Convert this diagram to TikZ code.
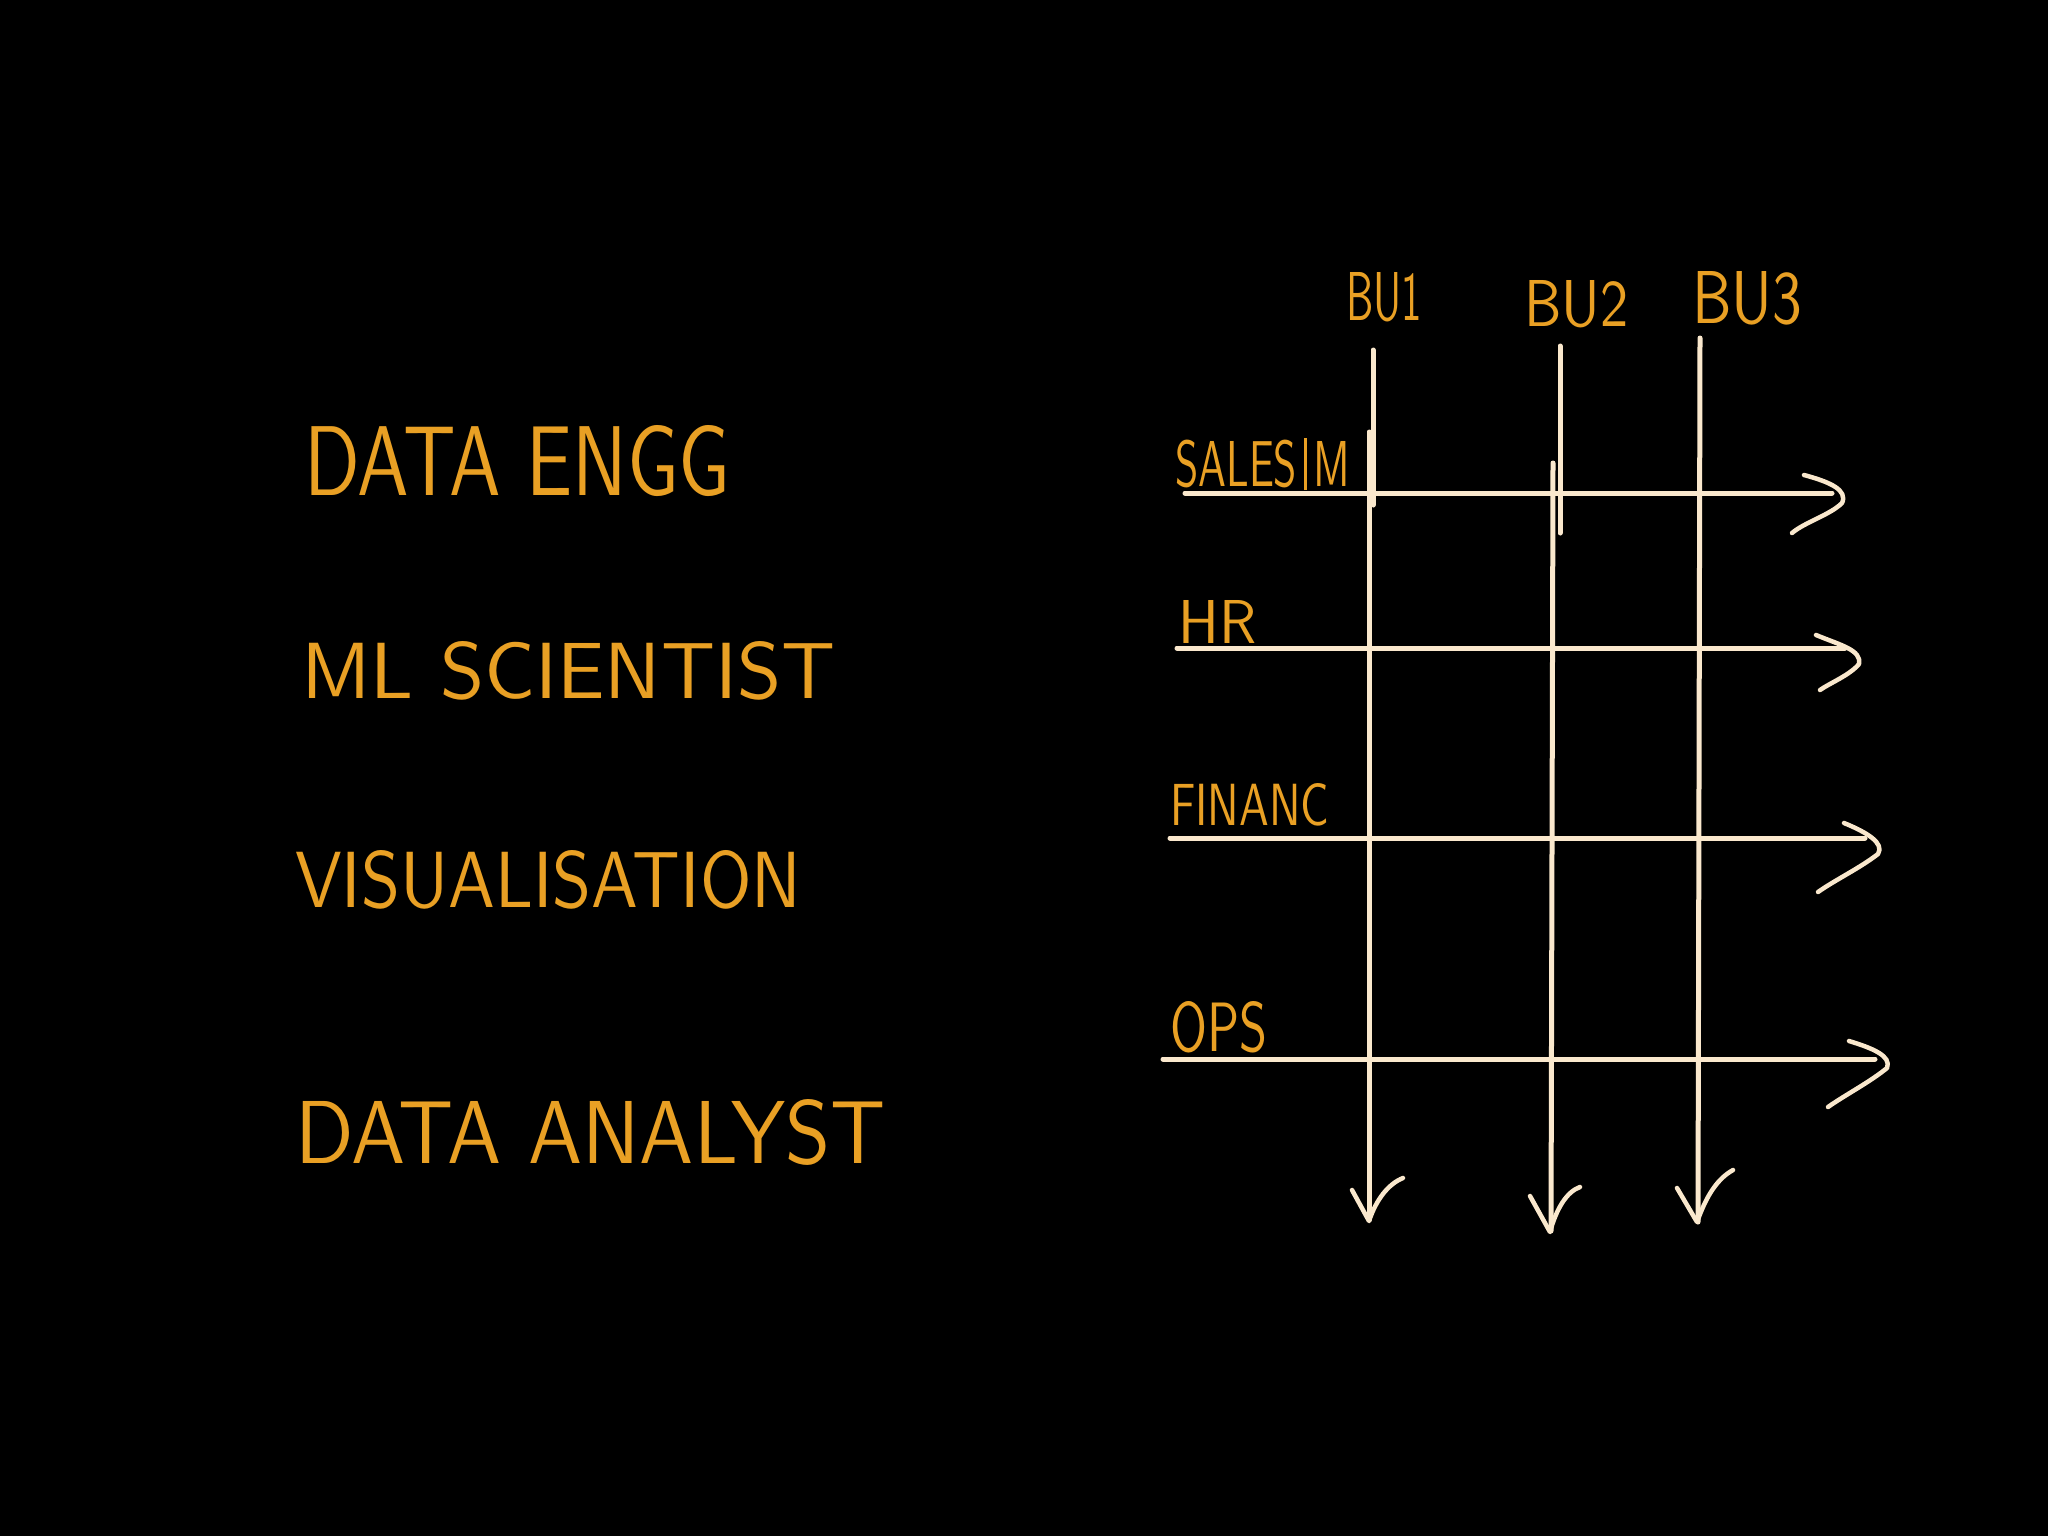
\documentclass[tikz,border=0pt]{standalone}
\usepackage{graphicx}
\definecolor{ink}{RGB}{233,160,36}
\definecolor{chalk}{RGB}{250,232,205}
\newcommand{\hwtext}[3]{\resizebox{#1pt}{#2pt}{\sffamily #3}}
\tikzset{
  lbl/.style={anchor=north west, inner sep=0pt, text=ink},
  gridline/.style={draw=chalk, line width=5pt, line cap=round, line join=round},
  barb/.style={draw=chalk, line width=4.5pt, line cap=round, line join=round}
}
\begin{document}
\begin{tikzpicture}[x=1pt, y=-1pt]
\fill[black] (0,0) rectangle (2048,1536);
\useasboundingbox (0,0) rectangle (2048,1536);

% left labels
\node[lbl] (de) at (304,425) {\hwtext{426}{70}{DATA ENGG}};
\node[lbl] (ml) at (301,641) {\hwtext{534}{57}{ML SCIENTIST}};
\node[lbl] (vis) at (295,850) {\hwtext{506}{57}{VISUALISATION}};
\node[lbl] (da) at (295,1099) {\hwtext{590}{64}{DATA ANALYST}};

% column labels
\node[lbl] (bu1) at (1346,272) {\hwtext{76}{48}{BU1}};
\node[lbl] (bu2) at (1524,280) {\hwtext{104}{46}{BU2}};
\node[lbl] (bu3) at (1692,271) {\hwtext{110}{52}{BU3}};

% row labels
\node[lbl] (sales) at (1175,438) {\hwtext{175}{48}{SALES\,\rule[-0.06em]{0.06em}{0.8em}\,M}};
\node[lbl] (hr) at (1178,600) {\hwtext{78}{43}{HR}};
\node[lbl] (fin) at (1170,783) {\hwtext{159}{42}{FINANC}};
\node[lbl] (ops) at (1170,1001) {\hwtext{97}{50}{OPS}};

% coordinates
\coordinate (c1a) at (1373,350);  \coordinate (c1b) at (1373,505);
\coordinate (c1c) at (1369,432);  \coordinate (c1d) at (1369,1220);
\coordinate (c2a) at (1560,346);  \coordinate (c2b) at (1560,533);
\coordinate (c2c) at (1553,463);  \coordinate (c2d) at (1551,1231);
\coordinate (c3a) at (1700,338);  \coordinate (c3d) at (1698,1222);

\coordinate (r1a) at (1185,493);  \coordinate (r1b) at (1832,493);
\coordinate (r2a) at (1177,648);  \coordinate (r2b) at (1845,648);
\coordinate (r3a) at (1170,838);  \coordinate (r3b) at (1865,838);
\coordinate (r4a) at (1163,1059); \coordinate (r4b) at (1875,1059);

% horizontal lines
\draw[gridline] (r1a) -- (r1b);
\draw[gridline] (r2a) -- (r2b);
\draw[gridline] (r3a) -- (r3b);
\draw[gridline] (r4a) -- (r4b);

% vertical lines
\draw[gridline] (c1a) -- (c1b);
\draw[gridline] (c1c) -- (c1d);
\draw[gridline] (c2a) -- (c2b);
\draw[gridline] (c2c) -- (c2d);
\draw[gridline] (c3a) -- (c3d);

% right arrowheads
\draw[barb] (1804,475) .. controls (1830,482) and (1848,490) .. (1842,503) .. controls (1830,515) and (1805,522) .. (1792,533);
\draw[barb] (1816,635) .. controls (1840,645) and (1862,650) .. (1859,664) .. controls (1850,675) and (1830,683) .. (1820,690);
\draw[barb] (1844,823) .. controls (1866,832) and (1885,843) .. (1878,854) .. controls (1860,868) and (1835,880) .. (1818,892);
\draw[barb] (1849,1041) .. controls (1872,1048) and (1892,1056) .. (1887,1068) .. controls (1870,1082) and (1845,1095) .. (1828,1107);

% bottom arrowheads
\draw[barb] (1352,1190) -- (1369,1221) .. controls (1376,1200) and (1388,1184) .. (1403,1178);
\draw[barb] (1530,1196) -- (1550,1232) .. controls (1556,1210) and (1566,1192) .. (1580,1187);
\draw[barb] (1677,1188) -- (1697,1222) .. controls (1705,1200) and (1715,1180) .. (1733,1170);
\end{tikzpicture}
\end{document}
